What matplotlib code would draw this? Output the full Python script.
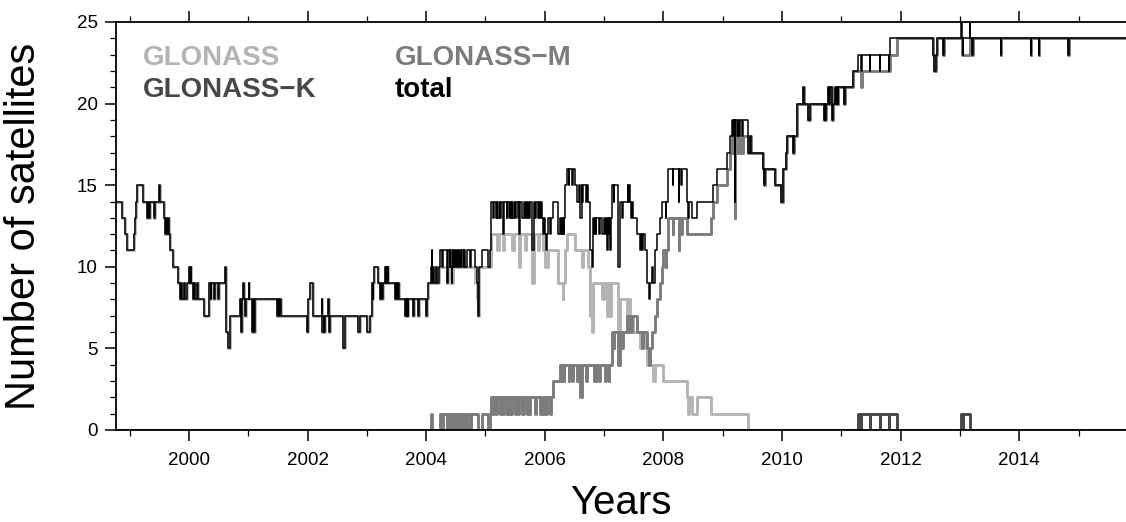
import numpy as np
import matplotlib
matplotlib.use("Agg")
import matplotlib.pyplot as plt
from matplotlib.ticker import MultipleLocator

plt.rcParams['font.family'] = ['Liberation Sans', 'DejaVu Sans']

# step change points (decimal year, number of satellites)
glo_t = [1998.70, 1998.865, 1998.93, 1998.96, 1999.08, 1999.09, 1999.11, 1999.13, 1999.23,
         1999.30, 1999.315, 1999.325, 1999.34, 1999.41, 1999.42, 1999.49, 1999.52, 1999.58,
         1999.60, 1999.615, 1999.63, 1999.645, 1999.66, 1999.68, 1999.735, 1999.82,
         1999.85, 1999.87, 1999.89, 1999.91, 1999.93, 1999.96, 2000.00, 2000.01, 2000.03,
         2000.04, 2000.06, 2000.08, 2000.10, 2000.13, 2000.15, 2000.26, 2000.34, 2000.37,
         2000.38, 2000.43, 2000.44, 2000.49, 2000.50, 2000.61, 2000.62, 2000.66, 2000.70,
         2000.86, 2000.88, 2000.89, 2000.91, 2000.92, 2000.95, 2000.96, 2001.01, 2001.02,
         2001.06, 2001.08, 2001.10, 2001.12, 2001.48, 2001.50, 2001.52, 2001.54, 2001.56,
         2001.995, 2002.01, 2002.04, 2002.085, 2002.10, 2002.24, 2002.245, 2002.27, 2002.28,
         2002.29, 2002.35, 2002.36, 2002.38, 2002.60, 2002.635, 2002.855, 2002.88, 2003.00,
         2003.06, 2003.08, 2003.09, 2003.10, 2003.11, 2003.125, 2003.19, 2003.22, 2003.23,
         2003.26, 2003.27, 2003.305, 2003.32, 2003.33, 2003.345, 2003.35, 2003.36, 2003.475,
         2003.49, 2003.50, 2003.52, 2003.54, 2003.645, 2003.655, 2003.67, 2003.68, 2003.69,
         2003.70, 2003.78, 2003.79, 2003.865, 2003.875, 2004.005, 2004.015, 2004.035,
         2004.09, 2004.10, 2004.12, 2004.14, 2004.16, 2004.19, 2004.21, 2004.35, 2004.37,
         2004.42, 2004.45, 2004.82, 2004.85, 2004.87, 2004.885, 2005.10, 2005.20, 2005.22,
         2005.29, 2005.31, 2005.45, 2005.48, 2005.57, 2005.59, 2005.66, 2005.68, 2005.79,
         2005.82, 2005.88, 2005.90, 2005.975, 2006.00, 2006.06, 2006.23, 2006.30, 2006.31,
         2006.34, 2006.37, 2006.51, 2006.63, 2006.65, 2006.73, 2006.77, 2006.79, 2006.81,
         2006.96, 2006.99, 2007.05, 2007.07, 2007.10, 2007.12, 2007.23, 2007.24, 2007.27,
         2007.38, 2007.40, 2007.44, 2007.49, 2007.60, 2007.63, 2007.69, 2007.72, 2007.82,
         2007.85, 2008.00, 2008.39, 2008.42, 2008.43, 2008.48, 2008.56, 2008.81, 2009.43]
glo_v = [14, 13, 12, 11, 12, 13, 14, 15, 14,
         13, 14, 13, 14, 13, 14, 15, 14, 13,
         12, 13, 12, 13, 12, 11, 10, 9,
         8, 9, 8, 9, 8, 9, 10, 9, 10,
         9, 8, 9, 8, 9, 8, 7, 9, 8,
         9, 8, 9, 8, 9, 10, 6, 5, 7,
         8, 6, 8, 9, 8, 7, 8, 9, 8,
         6, 8, 6, 8, 7, 8, 7, 8, 7,
         6, 8, 9, 8, 7, 8, 6, 7, 6,
         7, 8, 6, 7, 5, 7, 6, 7, 6,
         7, 8, 9, 8, 9, 10, 9, 8, 9,
         8, 9, 10, 9, 10, 9, 10, 9, 8,
         9, 8, 9, 8, 7, 8, 7, 8, 7,
         8, 7, 8, 7, 8, 7, 8, 9,
         10, 9, 10, 9, 10, 9, 10, 9, 10,
         9, 10, 9, 8, 7, 10, 12, 11, 12,
         11, 12, 11, 12, 10, 12, 11, 12, 9,
         12, 11, 12, 11, 10, 11, 9, 8, 9,
         11, 12, 11, 10, 11, 10, 7, 6, 9,
         8, 9, 7, 9, 7, 9, 8, 6, 8,
         7, 8, 7, 6, 5, 6, 5, 4, 3,
         4, 3, 2, 1, 2, 1, 2, 1, 0]

glom_t = [1998.70, 2004.085, 2004.10, 2004.24, 2004.26, 2004.28, 2004.35, 2004.36, 2004.40,
          2004.41, 2004.43, 2004.44, 2004.46, 2004.47, 2004.49, 2004.50, 2004.52, 2004.53,
          2004.55, 2004.57, 2004.59, 2004.61, 2004.63, 2004.64, 2004.66, 2004.68, 2004.74,
          2004.75, 2004.87, 2004.935, 2005.05, 2005.07, 2005.10, 2005.13, 2005.14, 2005.18,
          2005.19, 2005.25, 2005.26, 2005.30, 2005.32, 2005.36, 2005.37, 2005.40, 2005.41,
          2005.43, 2005.44, 2005.50, 2005.52, 2005.55, 2005.56, 2005.62, 2005.65, 2005.70,
          2005.71, 2005.74, 2005.75, 2005.84, 2005.86, 2005.92, 2005.93, 2005.96, 2005.98,
          2006.02, 2006.03, 2006.09, 2006.10, 2006.14, 2006.26, 2006.28, 2006.29, 2006.32,
          2006.33, 2006.40, 2006.41, 2006.46, 2006.47, 2006.55, 2006.57, 2006.60, 2006.62,
          2006.70, 2006.71, 2006.83, 2006.84, 2006.86, 2006.87, 2006.92, 2006.93, 2007.02,
          2007.03, 2007.08, 2007.09, 2007.13, 2007.16, 2007.17, 2007.24, 2007.26, 2007.30,
          2007.32, 2007.38, 2007.41, 2007.42, 2007.46, 2007.47, 2007.55, 2007.64, 2007.66,
          2007.72, 2007.75, 2007.77, 2007.80, 2007.86, 2007.89, 2007.94, 2007.97, 2008.00,
          2008.04, 2008.05, 2008.08, 2008.16, 2008.17, 2008.26, 2008.27, 2008.30, 2008.31,
          2008.39, 2008.81, 2008.84, 2008.90, 2009.07, 2009.12, 2009.15, 2009.18, 2009.19,
          2009.20, 2009.21, 2009.24, 2009.25, 2009.28, 2009.29, 2009.33, 2009.34, 2009.43,
          2009.46, 2009.47, 2009.685, 2009.70, 2009.71, 2009.88, 2009.99, 2010.01, 2010.02,
          2010.07, 2010.08, 2010.18, 2010.20, 2010.25, 2010.26, 2010.35, 2010.37, 2010.44,
          2010.47, 2010.70, 2010.72, 2010.73, 2010.75, 2010.78, 2010.79, 2010.81, 2010.84,
          2010.86, 2010.89, 2010.91, 2010.92, 2010.94, 2010.95, 2011.04, 2011.07, 2011.20,
          2011.34, 2011.35, 2011.82, 2011.94, 2012.55, 2012.57, 2012.59, 2012.62, 2012.72,
          2012.73, 2013.03, 2013.165, 2013.20, 2013.22, 2013.69, 2013.70, 2014.19, 2014.20,
          2014.33, 2014.34, 2014.83, 2014.84]
glom_v = [0, 1, 0, 1, 0, 1, 0, 1, 0,
          1, 0, 1, 0, 1, 0, 1, 0, 1,
          0, 1, 0, 1, 0, 1, 0, 1, 0,
          1, 0, 1, 0, 1, 2, 1, 2, 1,
          2, 1, 2, 1, 2, 1, 2, 1, 2,
          1, 2, 1, 2, 1, 2, 1, 2, 1,
          2, 1, 2, 1, 2, 1, 2, 1, 2,
          1, 2, 1, 2, 3, 4, 3, 4, 3,
          4, 3, 4, 3, 4, 3, 4, 2, 4,
          3, 4, 3, 4, 3, 4, 3, 4, 3,
          4, 3, 4, 6, 5, 6, 4, 6, 5,
          6, 7, 6, 7, 6, 7, 6, 5, 6,
          5, 4, 5, 6, 7, 8, 9, 10, 11,
          10, 11, 13, 12, 13, 11, 13, 12, 13,
          12, 13, 14, 15, 16, 17, 18, 17, 18,
          13, 18, 17, 18, 17, 18, 17, 18, 17,
          18, 17, 16, 15, 16, 15, 14, 15, 16,
          17, 18, 17, 18, 19, 20, 21, 20, 19,
          20, 19, 20, 19, 20, 21, 20, 21, 19,
          20, 21, 20, 21, 20, 21, 20, 21, 22,
          21, 22, 23, 24, 23, 22, 23, 24, 23,
          24, 23, 24, 23, 24, 23, 24, 23, 24,
          23, 24, 23, 24]

glok_t = [1998.70, 2011.28, 2011.33, 2011.34, 2011.48, 2011.49, 2011.65, 2011.66,
          2011.80, 2011.81, 2011.94, 2013.01, 2013.05, 2013.06, 2013.175]
glok_v = [0, 1, 0, 1, 0, 1, 0, 1,
          0, 1, 0, 1, 0, 1, 0]

t_end = 2015.85


def step_xy(t, v):
    return np.append(t, t_end), np.append(v, v[-1])


def value_at(t, v, tq):
    idx = np.searchsorted(np.asarray(t), tq, side='right') - 1
    return np.asarray(v)[idx]


# total = sum of the three groups
all_t = np.unique(np.concatenate([glo_t, glom_t, glok_t]))
total_v = value_at(glo_t, glo_v, all_t) + value_at(glom_t, glom_v, all_t) + value_at(glok_t, glok_v, all_t)

fig = plt.figure(figsize=(11.26, 5.22), dpi=100)
ax = fig.add_axes([116 / 1126, 92 / 522, 1010 / 1126, 408 / 522])

c_glo, c_m, c_k = '#b4b4b4', '#7c7c7c', '#474747'
ax.plot(*step_xy(glo_t, glo_v), drawstyle='steps-post', color=c_glo, lw=2.1)
ax.plot(*step_xy(glom_t, glom_v), drawstyle='steps-post', color=c_m, lw=2.1)
ax.plot(*step_xy(glok_t, glok_v), drawstyle='steps-post', color=c_k, lw=2.1)
ax.plot(*step_xy(all_t, total_v), drawstyle='steps-post', color='black', lw=1.1)

ax.set_xlim(1998.77, 2015.80)
ax.set_ylim(0, 25)
ax.xaxis.set_major_locator(MultipleLocator(2))
ax.xaxis.set_minor_locator(MultipleLocator(1))
ax.yaxis.set_major_locator(MultipleLocator(5))
ax.yaxis.set_minor_locator(MultipleLocator(1))
ax.tick_params(axis='x', which='both', direction='out', top=True, labelsize=13.5, pad=8)
ax.tick_params(axis='y', which='both', direction='out', labelsize=13.5, pad=5)
ax.tick_params(which='major', length=8, width=1.1)
ax.tick_params(which='minor', length=4, width=0.9)
ax.spines['right'].set_visible(False)
for s in ['left', 'bottom', 'top']:
    ax.spines[s].set_linewidth(1.3)

# axis titles placed by pixel position
fig.text(621 / 1126, 0.5 / 522, 'Years', fontsize=29, ha='center', va='bottom')
ax.set_ylabel('Number of satellites', fontsize=30)
ax.yaxis.set_label_coords(-72 / 1010, 0.5)

lab_kw = dict(transform=ax.transAxes, fontsize=20, fontweight='bold', va='baseline')
ax.text(27 / 1010, 1 - 43 / 408, 'GLONASS', color=c_glo, **lab_kw)
ax.text(279 / 1010, 1 - 43 / 408, 'GLONASS\u2212M', color=c_m, **lab_kw)
ax.text(27 / 1010, 1 - 75 / 408, 'GLONASS\u2212K', color=c_k, **lab_kw)
ax.text(279 / 1010, 1 - 75 / 408, 'total', color='black', **lab_kw)

fig.savefig('out.png', dpi=100)
